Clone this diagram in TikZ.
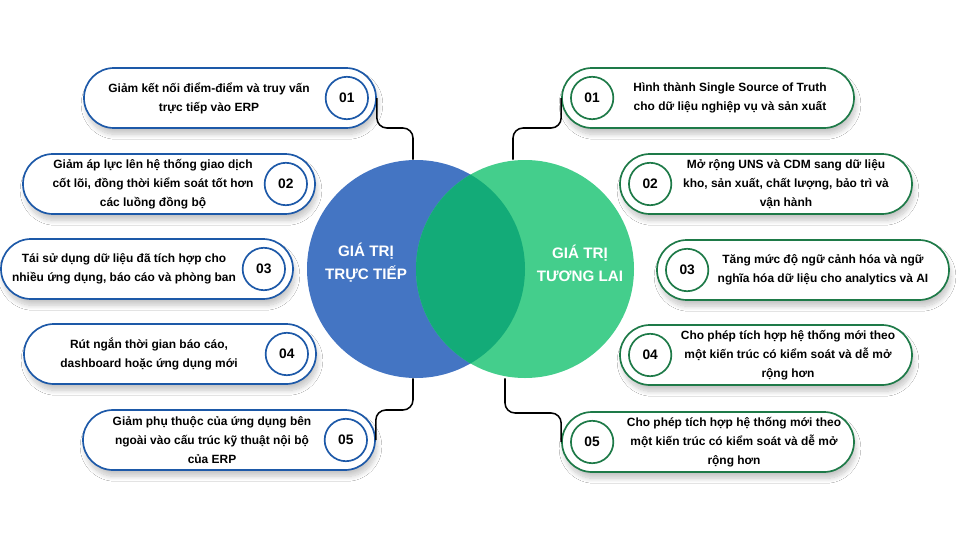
\documentclass[tikz,border=0pt]{standalone}
\usepackage{fontspec}
\setmainfont{Liberation Sans}
\usetikzlibrary{positioning,calc,shadows.blur}

\definecolor{valblue}{HTML}{4475C3}
\definecolor{valgreen}{HTML}{44CE8C}
\definecolor{valmix}{HTML}{13AB78}
\definecolor{lineblue}{HTML}{1D59A8}
\definecolor{linegreen}{HTML}{1E7A48}

\tikzset{
    pill/.style={draw, line width=1.2pt, fill=white, minimum width=73mm,
        minimum height=15mm, rounded corners=7.5mm,
        blur shadow={shadow xshift=0.5mm, shadow yshift=-1.6mm,
            shadow blur radius=1.2mm, shadow blur steps=10, shadow opacity=22}},
    lpill/.style={pill, draw=lineblue},
    rpill/.style={pill, draw=linegreen},
    numdot/.style={circle, draw, line width=1.2pt, fill=white, minimum size=10.6mm,
        inner sep=0pt, font=\fontsize{9.8}{11}\selectfont\bfseries},
    lnum/.style={numdot, draw=lineblue},
    rnum/.style={numdot, draw=linegreen},
    desc/.style={align=center, inner sep=0pt, font=\fontsize{8.5}{13.6}\selectfont\bfseries},
    title/.style={align=center, text=white, font=\fontsize{10.8}{16.5}\selectfont\bfseries},
    link/.style={draw=black, line width=1.1pt, rounded corners=2.5mm}
}

\begin{document}
\begin{tikzpicture}[x=0.25mm, y=-0.25mm]
    \useasboundingbox[fill=white] (0,0) rectangle (960,540);

    % the two value circles
    \node[circle, minimum size=54.5mm, inner sep=0pt] (vl) at (416,269) {};
    \node[circle, minimum size=54.5mm, inner sep=0pt] (vr) at (525,269) {};

    % bends of the connectors
    \coordinate (kl1) at (413,128);
    \coordinate (kl5) at (413,410);
    \coordinate (kr1) at (513,128);
    \coordinate (kr5) at (505,413);

    % left side
    \node[lpill] (l1) at (230,98) {};
    \node[lpill] (l2) at (169,184) {};
    \node[lpill] (l3) at (147,269) {};
    \node[lpill] (l4) at (170,354) {};
    \node[lpill] (l5) at (229,440) {};

    % right side
    \node[rpill] (r1) at (708,98) {};
    \node[rpill] (r2) at (766,184) {};
    \node[rpill] (r3) at (803,270) {};
    \node[rpill] (r4) at (766,355) {};
    \node[rpill] (r5) at (708,442) {};

    \path[link] (l1.east) |- (kl1) -- (kl1 |- vl.north);
    \path[link] (l5.east) |- (kl5) -- (kl5 |- vl.south);
    \path[link] (r1.west) |- (kr1) -- (kr1 |- vr.north);
    \path[link] (r5.west) |- (kr5) -- (kr5 |- vr.south);

    % circles on top of the connector ends
    \fill[valblue] (vl) circle[radius=27.25mm];
    \fill[valgreen] (vr) circle[radius=27.25mm];
    \begin{scope}
        \clip (vl) circle[radius=27.25mm];
        \fill[valmix] (vr) circle[radius=27.25mm];
    \end{scope}

    \node[title] (tl) at (366,263) {GIÁ TRỊ\\TRỰC TIẾP};
    \node[title] (tr) at (580,263) {GIÁ TRỊ\\TƯƠNG LAI};

    % numbers
    \node[lnum] (nl1) at ([xshift=-7.5mm]l1.east) {01};
    \node[lnum] (nl2) at ([xshift=-7.5mm]l2.east) {02};
    \node[lnum] (nl3) at ([xshift=-7.5mm]l3.east) {03};
    \node[lnum] (nl4) at ([xshift=-7.5mm]l4.east) {04};
    \node[lnum] (nl5) at ([xshift=-7.5mm]l5.east) {05};
    \node[rnum] (nr1) at ([xshift=7.75mm]r1.west) {01};
    \node[rnum] (nr2) at ([xshift=7.75mm]r2.west) {02};
    \node[rnum] (nr3) at ([xshift=7.75mm]r3.west) {03};
    \node[rnum] (nr4) at ([xshift=7.75mm]r4.west) {04};
    \node[rnum] (nr5) at ([xshift=7.75mm]r5.west) {05};

    % texts
    \node[desc] (tl1) at ([xshift=-5.25mm]l1.center) {Giảm kết nối điểm-điểm và truy vấn\\trực tiếp vào ERP};
    \node[desc] (tl2) at ([xshift=-4mm]l2.center) {Giảm áp lực lên hệ thống giao dịch\\cốt lõi, đồng thời kiểm soát tốt hơn\\các luồng đồng bộ};
    \node[desc] (tl3) at ([xshift=-5.75mm]l3.center) {Tái sử dụng dữ liệu đã tích hợp cho\\nhiều ứng dụng, báo cáo và phòng ban};
    \node[desc] (tl4) at ([xshift=-5.25mm]l4.center) {Rút ngắn thời gian báo cáo,\\dashboard hoặc ứng dụng mới};
    \node[desc] (tl5) at ([xshift=-4.25mm]l5.center) {Giảm phụ thuộc của ứng dụng bên\\ngoài vào cấu trúc kỹ thuật nội bộ\\của ERP};
    \node[desc] (tr1) at ([xshift=5.5mm]r1.center) {Hình thành Single Source of Truth\\cho dữ liệu nghiệp vụ và sản xuất};
    \node[desc] (tr2) at ([xshift=5mm]r2.center) {Mở rộng UNS và CDM sang dữ liệu\\kho, sản xuất, chất lượng, bảo trì và\\vận hành};
    \node[desc] (tr3) at ([xshift=5mm]r3.center) {Tăng mức độ ngữ cảnh hóa và ngữ\\nghĩa hóa dữ liệu cho analytics và AI};
    \node[desc] (tr4) at ([xshift=5.5mm]r4.center) {Cho phép tích hợp hệ thống mới theo\\một kiến trúc có kiểm soát và dễ mở\\rộng hơn};
    \node[desc] (tr5) at ([xshift=6.5mm]r5.center) {Cho phép tích hợp hệ thống mới theo\\một kiến trúc có kiểm soát và dễ mở\\rộng hơn};
\end{tikzpicture}
\end{document}
